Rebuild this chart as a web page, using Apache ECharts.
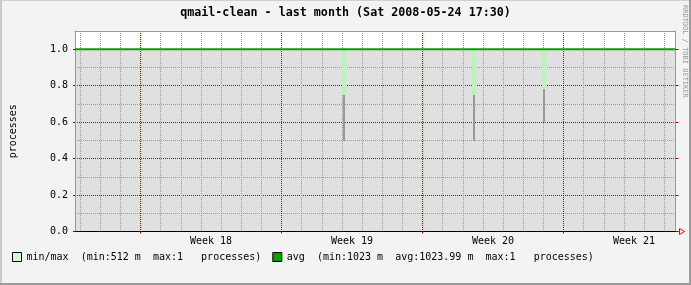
<!DOCTYPE html>
<html>
<head>
<meta charset="utf-8">
<script src="https://cdn.jsdelivr.net/npm/echarts@6/dist/echarts.min.js"></script>
<style>
html,body{margin:0;padding:0;background:#f3f3f3;}
#c{width:691px;height:285px;}
</style>
</head>
<body>
<div id="c"></div>
<script>
// x values: days relative to Monday 2008-04-28 00:00 (start of ISO week 18)
const timeRange = [-3.252, 26.56];
const weekNames = ['Week 18', 'Week 19', 'Week 20', 'Week 21'];
const weekStarts = [0, 7, 14, 21];
const weekLabelPos = [3.5, 10.5, 17.5, 24.5];
const dayLines = [-3, -2, -1, 1, 2, 3, 4, 5, 6, 8, 9, 10, 11, 12, 13, 15, 16, 17, 18, 19, 20, 22, 23, 24, 25, 26];
const yMinorTicks = [0.1, 0.3, 0.5, 0.7, 0.9];
const yMajorTicks = [0, 0.2, 0.4, 0.6, 0.8, 1.0];
const maxValues = [[-3.252, 1], [26.56, 1]];
const avgValues = [[-3.252, 1], [26.56, 1]];
const dipDays = [10.103, 16.557, 20.032];
const dipMax = [1, 1, 1];
const dipMid = [0.75, 0.75, 0.78];
const dipMin = [0.50, 0.50, 0.60];
const legendNames = ['min/max  (min:512 m  max:1   processes)', 'avg  (min:1023 m  avg:1023.99 m  max:1   processes)'];

const MONO = 'DejaVu Sans Mono';
const G = {left: 75, top: 31, width: 600.5, height: 200.5};
const minorCol = '#999999';
const majorCol = '#b00000';

const chart = echarts.init(document.getElementById('c'), null, {renderer: 'canvas'});

function rectItem(widthPx, color) {
  return function (params, api) {
    const top = api.coord([api.value(0), api.value(2)]);
    const bot = api.coord([api.value(0), api.value(1)]);
    const cx = Math.round(top[0]);
    return {
      type: 'rect',
      shape: {x: cx - widthPx / 2, y: Math.round(top[1]), width: widthPx, height: Math.round(bot[1] - top[1])},
      style: {fill: color}
    };
  };
}

const gx = G.left + G.width, gy = G.top + G.height;

chart.setOption({
  backgroundColor: '#f3f3f3',
  animation: false,
  title: {
    text: 'qmail-clean - last month (Sat 2008-05-24 17:30)',
    left: 'center', top: 7, padding: 0,
    textStyle: {fontFamily: MONO, fontSize: 11.7, fontWeight: 'bold', color: '#000'}
  },
  grid: {left: G.left, top: G.top, width: G.width, height: G.height, show: true, backgroundColor: '#ffffff', borderWidth: 0},
  legend: {
    left: 12, top: 252, padding: 0, itemWidth: 9, itemHeight: 9, itemGap: 11,
    selectedMode: false,
    textStyle: {fontFamily: MONO, fontSize: 10, color: '#000'},
    data: [
      {name: legendNames[0], icon: 'rect', itemStyle: {color: '#ccffcc', borderColor: '#000', borderWidth: 1}},
      {name: legendNames[1], icon: 'rect', itemStyle: {color: '#00a000', borderColor: '#000', borderWidth: 1}}
    ]
  },
  xAxis: [
    {
      type: 'value', min: timeRange[0], max: timeRange[1], position: 'top', z: 2,
      axisLine: {show: true, onZero: false, lineStyle: {color: minorCol, width: 1}},
      axisTick: {show: false, customValues: dayLines},
      axisLabel: {show: false},
      splitLine: {show: true, lineStyle: {color: minorCol, width: 1, type: 'dotted'}}
    },
    {
      type: 'value', min: timeRange[0], max: timeRange[1], position: 'bottom', z: 2,
      axisLine: {show: true, onZero: false, lineStyle: {color: '#000', width: 1}},
      axisTick: {show: true, customValues: weekStarts, length: 2, lineStyle: {color: majorCol}},
      axisLabel: {
        show: true, customValues: weekLabelPos, margin: 5,
        fontFamily: MONO, fontSize: 10, color: '#000',
        formatter: function (v) { return weekNames[weekLabelPos.indexOf(v)]; }
      },
      splitLine: {show: true, lineStyle: {color: majorCol, width: 1, type: 'dotted'}}
    }
  ],
  yAxis: [
    {
      type: 'value', min: 0, max: 1.1, position: 'left', z: 2,
      axisLine: {show: true, onZero: false, lineStyle: {color: minorCol, width: 1}},
      axisTick: {show: false, customValues: yMinorTicks},
      axisLabel: {show: false},
      splitLine: {show: true, lineStyle: {color: minorCol, width: 1, type: 'dotted'}}
    },
    {
      type: 'value', min: 0, max: 1.1, position: 'left', z: 2,
      name: 'processes', nameLocation: 'middle', nameGap: 57, nameRotate: 90,
      nameTextStyle: {fontFamily: MONO, fontSize: 10, color: '#000'},
      axisLine: {show: false, onZero: false},
      axisTick: {show: true, customValues: yMajorTicks, length: 2, lineStyle: {color: majorCol}},
      axisLabel: {
        show: true, customValues: yMajorTicks, margin: 7,
        fontFamily: MONO, fontSize: 10, color: '#000',
        formatter: function (v) { return v.toFixed(1); }
      },
      splitLine: {show: true, lineStyle: {color: majorCol, width: 1, type: 'dotted'}}
    },
    {
      type: 'value', min: 0, max: 1.1, position: 'right', z: 2,
      axisLine: {show: true, onZero: false, lineStyle: {color: minorCol, width: 1}},
      axisTick: {show: true, customValues: yMajorTicks, length: 3, lineStyle: {color: majorCol}},
      axisLabel: {show: false},
      splitLine: {show: false}
    }
  ],
  series: [
    {
      name: 'max', type: 'line', xAxisIndex: 0, yAxisIndex: 0, z: 1,
      data: maxValues, symbol: 'none', silent: true,
      lineStyle: {width: 0}, areaStyle: {color: '#e0e0e0', opacity: 1}
    },
    {
      name: 'minline', type: 'custom', xAxisIndex: 0, yAxisIndex: 0, z: 3,
      renderItem: rectItem(2, '#999999'),
      encode: {x: 0, y: [1, 2]},
      data: dipDays.map((d, i) => [d, dipMin[i], dipMid[i]])
    },
    {
      name: legendNames[0], type: 'custom', xAxisIndex: 0, yAxisIndex: 0, z: 3,
      renderItem: rectItem(4, '#b8f5b8'),
      encode: {x: 0, y: [1, 2]},
      itemStyle: {color: '#ccffcc'},
      data: dipDays.map((d, i) => [d, dipMid[i], dipMax[i]])
    },
    {
      name: legendNames[1], type: 'line', xAxisIndex: 0, yAxisIndex: 0, z: 4,
      data: avgValues, symbol: 'none', silent: true,
      lineStyle: {width: 2, color: '#00a000'}, itemStyle: {color: '#00a000'}
    }
  ],
  graphic: [
    {type: 'rect', shape: {x: 0, y: 0, width: 691, height: 1}, style: {fill: '#d0d0d0'}, silent: true},
    {type: 'rect', shape: {x: 0, y: 0, width: 2, height: 285}, style: {fill: '#cbcbcb'}, silent: true},
    {type: 'rect', shape: {x: 689, y: 0, width: 2, height: 285}, style: {fill: '#9c9c9c'}, silent: true},
    {type: 'rect', shape: {x: 0, y: 283, width: 691, height: 2}, style: {fill: '#9c9c9c'}, silent: true},
    {type: 'line', shape: {x1: gx, y1: gy, x2: gx + 4, y2: gy}, style: {stroke: '#ff0000', lineWidth: 1}, silent: true},
    {type: 'polygon', shape: {points: [[gx + 4, gy - 3], [gx + 9, gy], [gx + 4, gy + 3]]}, style: {stroke: '#ff0000', fill: 'none', lineWidth: 1}, silent: true},
    {
      type: 'text', x: 685, y: 5, rotation: -Math.PI / 2, silent: true,
      style: {text: 'RRDTOOL / TOBI OETIKER', font: '7px "DejaVu Sans Mono"', fill: '#999999', align: 'left', verticalAlign: 'middle'}
    }
  ]
});
</script>
</body>
</html>
